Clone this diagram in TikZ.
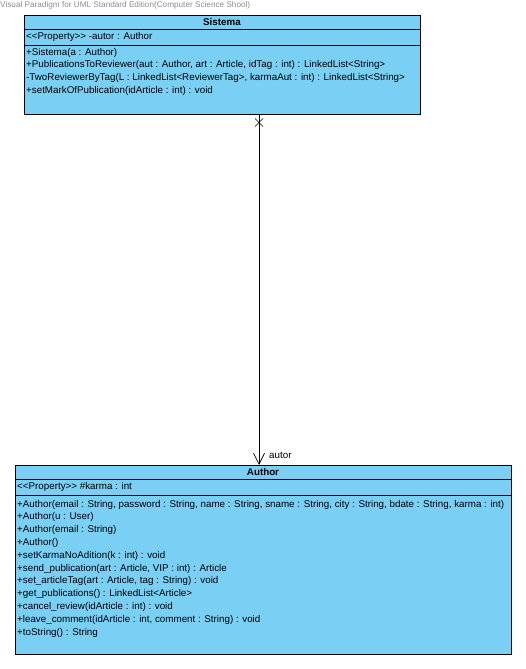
\documentclass[tikz,border=0pt]{standalone}
\usepackage{fontspec}
\setmainfont{Liberation Sans}
\usetikzlibrary{arrows.meta}
\definecolor{classfill}{RGB}{122,207,245}
\definecolor{notegrey}{RGB}{140,140,140}
\newcommand{\stereo}[1]{<{}<#1>{}>}
\begin{document}
\begin{tikzpicture}[x=1pt,y=-1pt,
  classbox/.style={draw=black,fill=classfill,line width=0.8pt,inner sep=0pt,anchor=north west},
  sepline/.style={draw=black,line width=0.8pt},
  member/.style={anchor=west,inner sep=0pt,font=\fontsize{9.8}{11}\selectfont},
  title/.style={anchor=center,inner sep=0pt,font=\bfseries\fontsize{9.8}{11}\selectfont},
  assoc/.style={draw=black,line width=0.7pt},
  rolelabel/.style={anchor=west,inner sep=0pt,font=\fontsize{9.8}{11}\selectfont}]
\useasboundingbox (0,0) rectangle (525,669);

% tool banner
\node[anchor=west,inner sep=0pt,text=notegrey,font=\fontsize{8.2}{9}\selectfont] (banner) at (0,5) {Visual Paradigm for UML Standard Edition(Computer Science Shool)};

% class Sistema
\node[classbox,minimum width=396pt,minimum height=99pt] (sistema) at (24,15) {};
\draw[sepline] (24,29) -- (420,29);
\draw[sepline] (24,45) -- (420,45);
\node[title] (sistemaname) at (222,22) {Sistema};
\node[member] (sa1) at (26,37) {\stereo{Property} -autor : Author};
\node[member] (sm1) at (26,52.5) {+Sistema(a : Author)};
\node[member] (sm2) at (26,65.2) {+PublicationsToReviewer(aut : Author, art : Article, idTag : int) : LinkedList<String>};
\node[member] (sm3) at (26,77.9) {-TwoReviewerByTag(L : LinkedList<ReviewerTag>, karmaAut : int) : LinkedList<String>};
\node[member] (sm4) at (26,90.6) {+setMarkOfPublication(idArticle : int) : void};

% class Author
\node[classbox,minimum width=496pt,minimum height=189pt] (author) at (15,465) {};
\draw[sepline] (15,479) -- (511,479);
\draw[sepline] (15,495) -- (511,495);
\node[title] (authorname) at (263,472) {Author};
\node[member] (aa1) at (17,487) {\stereo{Property} \#karma : int};
\node[member] (am1) at (17,504.5) {+Author(email : String, password : String, name : String, sname : String, city : String, bdate : String, karma : int)};
\node[member] (am2) at (17,517.3) {+Author(u : User)};
\node[member] (am3) at (17,530.1) {+Author(email : String)};
\node[member] (am4) at (17,542.9) {+Author()};
\node[member] (am5) at (17,555.7) {+setKarmaNoAdition(k : int) : void};
\node[member] (am6) at (17,568.5) {+send\_publication(art : Article, VIP : int) : Article};
\node[member] (am7) at (17,581.3) {+set\_articleTag(art : Article, tag : String) : void};
\node[member] (am8) at (17,594.1) {+get\_publications() : LinkedList<Article>};
\node[member] (am9) at (17,606.9) {+cancel\_review(idArticle : int) : void};
\node[member] (am10) at (17,619.7) {+leave\_comment(idArticle : int, comment : String) : void};
\node[member] (am11) at (17,632.5) {+toString() : String};

% navigable association Sistema -> Author, non-navigable end marked with a cross
\coordinate (lane) at (259,0);
\draw[assoc,-{Straight Barb[length=11pt,width=11pt,line width=0.7pt]}] (sistema.south -| lane) -- (author.north -| lane);
\coordinate (crossmark) at (259,122.5);
\draw[assoc] ([shift={(-4,-4)}]crossmark) -- ([shift={(4,4)}]crossmark)
             ([shift={(-4,4)}]crossmark) -- ([shift={(4,-4)}]crossmark);
\node[rolelabel] (rolename) at (269,455) {autor};
\end{tikzpicture}
\end{document}
